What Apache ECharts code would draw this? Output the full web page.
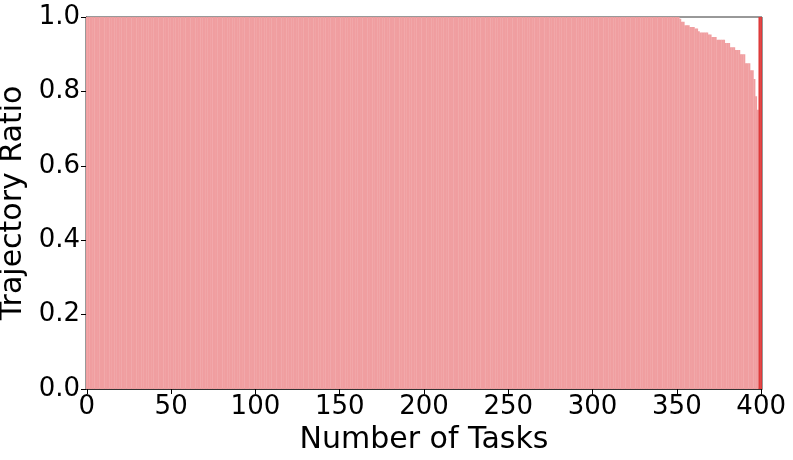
<!DOCTYPE html>
<html>
<head>
<meta charset="utf-8">
<script src="https://cdn.jsdelivr.net/npm/echarts@6/dist/echarts.min.js"></script>
<style>
  html, body { margin: 0; padding: 0; background: #fff; }
  #chart { width: 793px; height: 460px; }
</style>
</head>
<body>
<div id="chart"></div>
<script>
// sorted trajectory ratios, as [value, number of tasks] runs
const ratioRuns = [
  [1.0, 352],
  [0.995, 1],
  [0.987, 2],
  [0.978, 3],
  [0.973, 3],
  [0.969, 2],
  [0.962, 1],
  [0.958, 5],
  [0.953, 2],
  [0.946, 3],
  [0.939, 5],
  [0.930, 3],
  [0.919, 3],
  [0.911, 3],
  [0.900, 3],
  [0.876, 3],
  [0.857, 2],
  [0.833, 1],
  [0.787, 1],
  [0.751, 1],
];
// highlighted bars at the right end
const highlightRatios = [1.0, 1.0];

const ratios = [];
ratioRuns.forEach(([v, n]) => {
  for (let i = 0; i < n; i++) ratios.push(v);
});
const values = ratios.concat(highlightRatios);
const tasks = values.map((_, i) => String(i));

const font = 'DejaVu Sans';
const chart = echarts.init(document.getElementById('chart'));
chart.setOption({
  animation: false,
  textStyle: { fontFamily: font },
  grid: {
    left: 86,
    right: 31,
    top: 17,
    bottom: 71,
    outerBoundsMode: 'none',
    containLabel: false,
    show: true,
    borderColor: '#333',
    borderWidth: 1,
    backgroundColor: 'transparent',
  },
  xAxis: {
    type: 'category',
    data: tasks,
    name: 'Number of Tasks',
    nameLocation: 'middle',
    nameGap: 36,
    nameTextStyle: { fontSize: 30, color: '#000', fontFamily: font },
    axisLine: { show: true, lineStyle: { color: '#333' } },
    axisTick: {
      show: true,
      alignWithLabel: true,
      length: 5,
      interval: (i) => i % 50 === 0,
      lineStyle: { color: '#000' },
    },
    axisLabel: {
      interval: (i) => i % 50 === 0,
      fontSize: 26,
      color: '#000',
      margin: 5,
      fontFamily: font,
    },
    splitLine: { show: false },
  },
  yAxis: {
    type: 'value',
    min: 0,
    max: 1,
    interval: 0.2,
    name: 'Trajectory Ratio',
    nameLocation: 'middle',
    nameGap: 51,
    nameRotate: 90,
    nameTextStyle: { fontSize: 30, color: '#000', fontFamily: font },
    axisLine: { show: true, lineStyle: { color: '#333' } },
    axisTick: { show: true, length: 5, lineStyle: { color: '#000' } },
    axisLabel: {
      fontSize: 26,
      color: '#000',
      margin: 6,
      fontFamily: font,
      formatter: (v) => v.toFixed(1),
    },
    splitLine: { show: false },
  },
  series: [
    {
      type: 'bar',
      barWidth: 2,
      data: values.map((v, i) => ({
        value: v,
        itemStyle: { color: i >= ratios.length ? '#de3a3a' : '#f09ea0' },
      })),
    },
  ],
});
</script>
</body>
</html>
